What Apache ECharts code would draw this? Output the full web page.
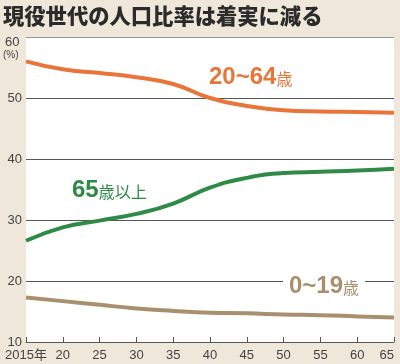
<!DOCTYPE html>
<html><head><meta charset="utf-8">
<script src="https://cdn.jsdelivr.net/npm/echarts@6/dist/echarts.min.js"></script>
<style>html,body{margin:0;padding:0;background:#efe7da;}#c{width:400px;height:364px;}</style>
</head><body><div id="c"></div>
<script>
const years = [2015, 2020, 2025, 2030, 2035, 2040, 2045, 2050, 2055, 2060, 2065];
const working = [56.0, 54.7, 54.1, 53.4, 52.3, 50.0, 48.7, 48.0, 47.8, 47.7, 47.6];
const elderly = [26.6, 28.8, 29.9, 31.0, 32.7, 35.3, 36.9, 37.7, 37.9, 38.1, 38.4];
const young = [17.3, 16.7, 16.1, 15.5, 15.1, 14.8, 14.7, 14.5, 14.4, 14.2, 14.0];
const yTicks = [10, 20, 30, 40, 50, 60];
const title = '現役世代の人口比率は着実に減る';

const pairs = a => years.map((y, i) => [y, a[i]]);
const chart = echarts.init(document.getElementById('c'));
const lab = '"Liberation Sans", Arial, "Noto Sans CJK JP", sans-serif';
const big = '"Liberation Sans Narrow", "Liberation Sans", Arial, sans-serif';
const cjk = '"Noto Sans CJK JP", sans-serif';
function seriesLabel(num, unit, color, x, y, bg) {
  return {
    type: 'text', left: x, top: y, z: 10,
    style: {
      rich: {
        n: {fontFamily: big, fontWeight: 'bold', fontSize: 24, fill: color, color: color},
        u: {fontFamily: cjk, fontSize: 16, fill: color, color: color, padding: [4, 0, 0, 0]}
      },
      text: '{n|' + num + '}{u|' + unit + '}',
      backgroundColor: bg || null,
      padding: bg ? [0, 6, 0, 6] : 0
    }
  };
}
const lineCommon = {type: 'line', smooth: 0.5, showSymbol: false};
chart.setOption({
  animation: false,
  backgroundColor: '#efe7da',
  grid: {left: 26, right: 6, top: 37, bottom: 22, show: true, backgroundColor: '#ffffff', borderWidth: 0},
  xAxis: {
    type: 'value', min: 2015, max: 2065, interval: 5,
    axisLine: {lineStyle: {color: '#555', width: 1}},
    axisTick: {inside: true, length: 5, lineStyle: {color: '#555'}},
    splitLine: {show: false},
    axisLabel: {
      color: '#444', fontSize: 13, fontFamily: lab, margin: 7, alignMaxLabel: 'right',
      formatter: v => v === 2015 ? '2015年' : String(v).slice(2)
    }
  },
  yAxis: {
    type: 'value', min: yTicks[0], max: yTicks[yTicks.length - 1], interval: 10,
    axisLine: {show: false}, axisTick: {show: false},
    splitLine: {lineStyle: {color: ['#555', '#555', '#555', '#555', '#555', '#999'], width: 1}},
    axisLabel: {
      color: '#444', fontSize: 13, fontFamily: lab, margin: 4,
      formatter: v => v === 60 ? '' : String(v)
    }
  },
  series: [
    Object.assign({data: pairs(working), lineStyle: {color: '#e8763a', width: 4}}, lineCommon),
    Object.assign({data: pairs(elderly), lineStyle: {color: '#2f8a45', width: 4}}, lineCommon),
    Object.assign({data: pairs(young), lineStyle: {color: '#a8906f', width: 4}}, lineCommon)
  ],
  graphic: [
    {type: 'text', left: 3, top: 5, style: {text: title, fontFamily: cjk, fontWeight: 900, fontSize: 21.3, fill: '#2b2b2b'}},
    {type: 'text', left: 5, top: 36, style: {text: '60', fontFamily: lab, fontSize: 13, fill: '#444'}},
    {type: 'text', left: 3, top: 50, style: {text: '(%)', fontFamily: lab, fontSize: 10, fill: '#444'}},
    seriesLabel('20~64', '歳', '#e8763a', 209, 65),
    seriesLabel('65', '歳以上', '#2f8a45', 72, 178),
    seriesLabel('0~19', '歳', '#a8906f', 283, 274, '#ffffff')
  ]
});
</script></body></html>
